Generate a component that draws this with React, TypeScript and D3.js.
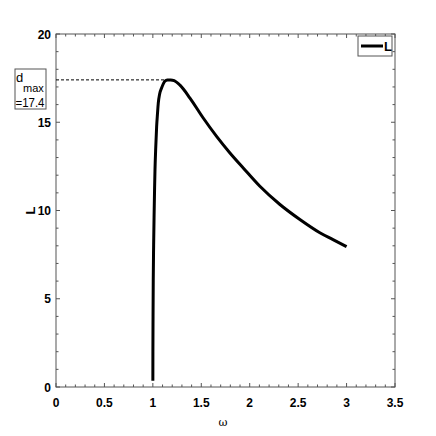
import React from "react";
import * as d3 from "d3";

const omega = [1.0, 1.0005, 1.002, 1.004, 1.008, 1.013, 1.018, 1.022, 1.03, 1.039, 1.048, 1.056, 1.07, 1.091, 1.11, 1.125, 1.15, 1.184, 1.22, 1.28, 1.383, 1.52, 1.658, 1.796, 1.933, 2.105, 2.312, 2.518, 2.724, 2.86, 3.0];
const Lvals = [0.35, 2.0, 4.0, 6.0, 8.0, 9.8, 11.3, 12.3, 13.6, 14.76, 15.5, 16.08, 16.6, 16.95, 17.2, 17.33, 17.39, 17.4, 17.36, 17.1, 16.37, 15.24, 14.2, 13.26, 12.41, 11.37, 10.34, 9.49, 8.74, 8.35, 7.95];
const xTicks = [0, 0.5, 1, 1.5, 2, 2.5, 3, 3.5];
const yTicks = [0, 5, 10, 15, 20];
const dMax = 17.4;
const dMaxOmega = 1.184;
const legendLabel = "L";

export default function App() {
  const W = 436, H = 436;
  const left = 56, right = 395, top = 34, bottom = 387;
  const x = d3.scaleLinear().domain([0, 3.5]).range([left, right]);
  const y = d3.scaleLinear().domain([0, 20]).range([bottom, top]);
  const pts: [number, number][] = omega.map((w, i) => [w, Lvals[i]]);
  const line = d3.line<[number, number]>().x(d => x(d[0])).y(d => y(d[1])).curve(d3.curveMonotoneX);
  const xMinor = d3.range(0, 3.5001, 0.1).map(v => +v.toFixed(2));
  const yMinor = d3.range(0, 20.001, 1);
  const axisColor = "#555";
  const font = "Liberation Sans, Arial, sans-serif";
  return (
    <svg width={W} height={H} style={{ position: "absolute", left: 0, top: 0, background: "#fff" }}>
      <rect x={left} y={top} width={right - left} height={bottom - top} fill="none" stroke={axisColor} strokeWidth={1} />
      {xMinor.map((v, i) => {
        const major = Math.abs(v * 2 - Math.round(v * 2)) < 1e-6;
        const len = major ? 4 : 2.5;
        return (
          <g key={"xm" + i}>
            <line x1={x(v)} x2={x(v)} y1={bottom} y2={bottom - len} stroke={axisColor} />
            <line x1={x(v)} x2={x(v)} y1={top} y2={top + len} stroke={axisColor} />
          </g>
        );
      })}
      {yMinor.map((v, i) => {
        const major = v % 5 === 0;
        const len = major ? 4 : 2.5;
        return (
          <g key={"ym" + i}>
            <line x1={left} x2={left + len} y1={y(v)} y2={y(v)} stroke={axisColor} />
            <line x1={right} x2={right - len} y1={y(v)} y2={y(v)} stroke={axisColor} />
          </g>
        );
      })}
      {xTicks.map(v => (
        <text key={"xt" + v} x={x(v)} y={bottom + 20} textAnchor="middle" fontFamily={font} fontWeight="bold" fontSize={12}>{v}</text>
      ))}
      {yTicks.map(v => (
        <text key={"yt" + v} x={left - 5} y={y(v) + 4.5} textAnchor="end" fontFamily={font} fontWeight="bold" fontSize={12}>{v}</text>
      ))}
      <text x={223} y={426} textAnchor="middle" fontFamily="DejaVu Serif, serif" fontSize={11}>ω</text>
      <text transform={`translate(35,${y(10)}) rotate(-90)`} textAnchor="middle" fontFamily={font} fontWeight="bold" fontSize={13}>L</text>
      <line x1={left} x2={x(dMaxOmega)} y1={y(dMax)} y2={y(dMax)} stroke="#000" strokeWidth={1} strokeDasharray="3,2" />
      <path d={line(pts) || ""} fill="none" stroke="#000" strokeWidth={3} />
      <rect x={15} y={69} width={31} height={40} fill="#fff" stroke={axisColor} strokeWidth={1} />
      <text x={16} y={81.5} fontFamily={font} fontSize={13}>d</text>
      <text x={23} y={92} fontFamily={font} fontSize={11}>max</text>
      <text x={15.5} y={106.5} fontFamily={font} fontSize={12} textLength={29} lengthAdjust="spacingAndGlyphs">=17.4</text>
      <rect x={358} y={36} width={34} height={20} fill="#fff" stroke={axisColor} strokeWidth={1} />
      <line x1={361} x2={383} y1={46} y2={46} stroke="#000" strokeWidth={3} />
      <text x={384} y={51} fontFamily={font} fontWeight="bold" fontSize={13}>{legendLabel}</text>
    </svg>
  );
}
